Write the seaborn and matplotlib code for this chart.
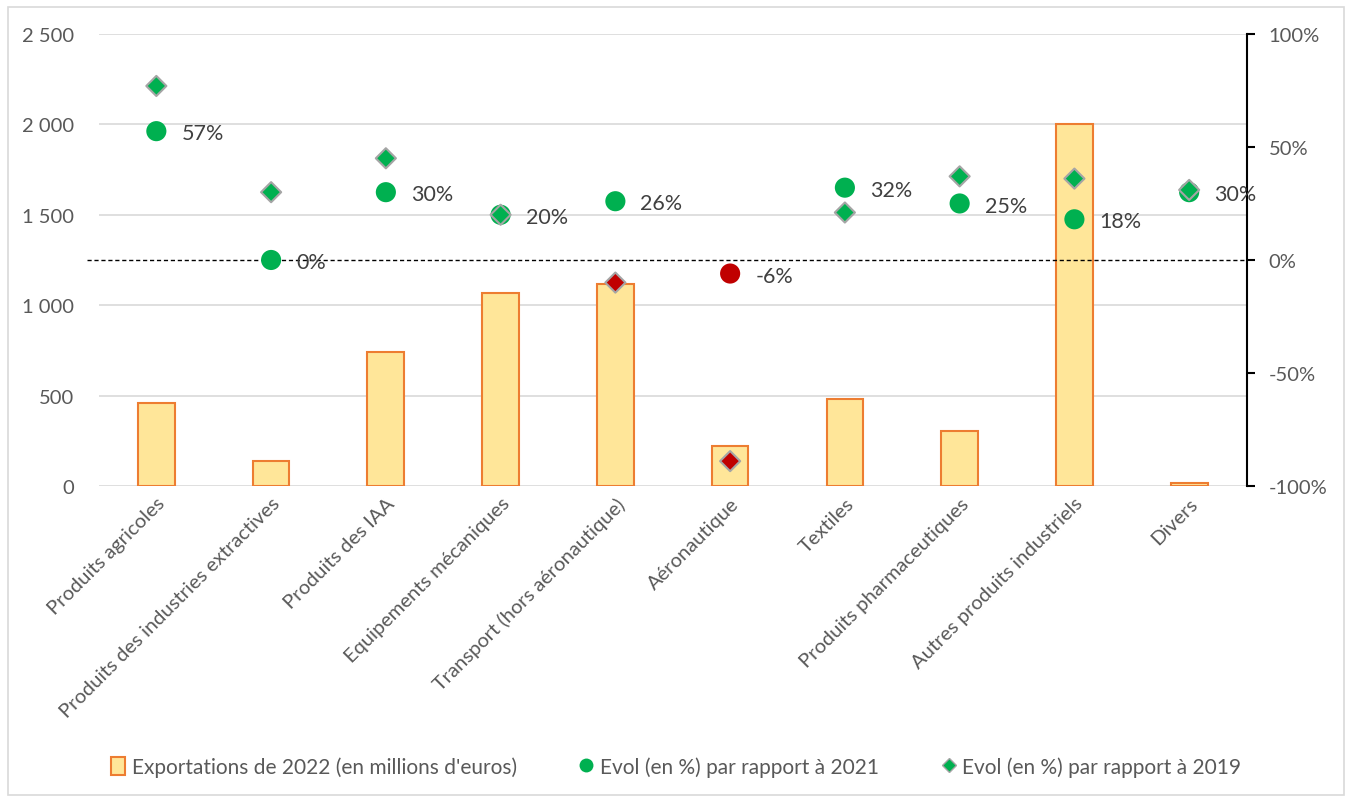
import numpy as np
import pandas as pd
import matplotlib.pyplot as plt
import seaborn as sns
from matplotlib.lines import Line2D
from matplotlib.patches import Patch, Rectangle
from matplotlib.ticker import FuncFormatter

# data
categories = ['Produits agricoles', 'Produits des industries extractives', 'Produits des IAA',
              'Equipements mécaniques', 'Transport (hors aéronautique)', 'Aéronautique',
              'Textiles', 'Produits pharmaceutiques', 'Autres produits industriels', 'Divers']
exports_2022 = [460, 140, 740, 1065, 1115, 220, 480, 305, 2000, 17]
evol_2021 = [57, 0, 30, 20, 26, -6, 32, 25, 18, 30]
evol_2019 = [77, 30, 45, 20, -10, -89, 21, 37, 36, 31]

GREEN = '#00B050'
RED = '#C00000'
TXT = '#595959'

df = pd.DataFrame({'cat': categories, 'export': exports_2022,
                   'e2021': evol_2021, 'e2019': evol_2019})
df['pos'] = np.arange(len(df))
df['s2021'] = np.where(df['e2021'] < 0, 'neg', 'pos')
df['s2019'] = np.where(df['e2019'] < 0, 'neg', 'pos')
pal = {'pos': GREEN, 'neg': RED}

sns.set_style('white')
plt.rcParams['font.family'] = ['Lato', 'DejaVu Sans']

fig = plt.figure(figsize=(13.52, 8.04), dpi=100)
ax = fig.add_axes([0.0732, 0.3943, 0.8488, 0.5622])

# bars on the left axis
sns.barplot(data=df, x='cat', y='export', color='#FFE699', edgecolor='#ED7D31',
            linewidth=1.5, width=0.32, saturation=1, ax=ax)
ax.set_ylim(0, 2500)
ax.set_yticks(range(0, 2501, 500))
ax.yaxis.set_major_formatter(FuncFormatter(lambda v, p: f'{int(v):,}'.replace(',', ' ')))
ax.grid(axis='y', color='#D9D9D9', linewidth=1.2)
ax.set_axisbelow(True)
for s in ax.spines.values():
    s.set_visible(False)
ax.tick_params(axis='both', length=0, labelsize=14.5, colors=TXT)
ax.tick_params(axis='y', pad=18)
ax.tick_params(axis='x', pad=6)
ax.set_xlabel('')
ax.set_ylabel('')
ax.set_xlim(-0.5, len(df) - 0.5)
plt.setp(ax.get_xticklabels(), rotation=45, ha='right', rotation_mode='anchor')

# evolutions on the right axis
ax2 = ax.twinx()
ax2.axhline(0, xmin=-0.01, xmax=1, color='black', linestyle=(0, (3, 2)), linewidth=1, clip_on=False)
sns.scatterplot(data=df, x='pos', y='e2021', hue='s2021', palette=pal, s=210,
                edgecolor='none', legend=False, ax=ax2, zorder=3)
sns.scatterplot(data=df, x='pos', y='e2019', hue='s2019', palette=pal, marker='D', s=105,
                edgecolor='#A5A5A5', linewidth=1.5, legend=False, ax=ax2, zorder=4)
for _, r in df.iterrows():
    ax2.annotate(f"{r['e2021']}%", (r['pos'], r['e2021']), xytext=(18, -1.5),
                 textcoords='offset points', va='center', ha='left', fontsize=15.5, color='#404040')
ax2.set_ylim(-100, 100)
ax2.set_yticks(range(-100, 101, 50))
ax2.yaxis.set_major_formatter(FuncFormatter(lambda v, p: f'{int(v)}%'))
ax2.set_xlim(-0.5, len(df) - 0.5)
ax2.set_ylabel('')
for k in ['top', 'left', 'bottom']:
    ax2.spines[k].set_visible(False)
ax2.spines['right'].set_color('black')
ax2.spines['right'].set_linewidth(1.5)
ax2.tick_params(axis='y', direction='out', length=6, width=1.5, color='black',
                labelsize=14.5, labelcolor=TXT, pad=10)

handles = [Patch(facecolor='#FFE699', edgecolor='#ED7D31', linewidth=1.5),
           Line2D([], [], marker='o', linestyle='', markerfacecolor=GREEN, markeredgecolor='none', markersize=10),
           Line2D([], [], marker='D', linestyle='', markerfacecolor=GREEN, markeredgecolor='#A5A5A5', markersize=7)]
labels = ["Exportations de 2022 (en millions d'euros)", 'Evol (en %) par rapport à 2021',
          'Evol (en %) par rapport à 2019']
fig.legend(handles, labels, loc='center', bbox_to_anchor=(0.5, 0.045), ncol=3, frameon=False,
           fontsize=15, labelcolor=TXT, handlelength=0.7, handleheight=1.0, handletextpad=0.3,
           columnspacing=3.0)

fig.patches.append(Rectangle((0.006, 0.01), 0.988, 0.98, transform=fig.transFigure,
                             fill=False, edgecolor='#D9D9D9', linewidth=1.2))

fig.savefig('out.png', dpi=100)
